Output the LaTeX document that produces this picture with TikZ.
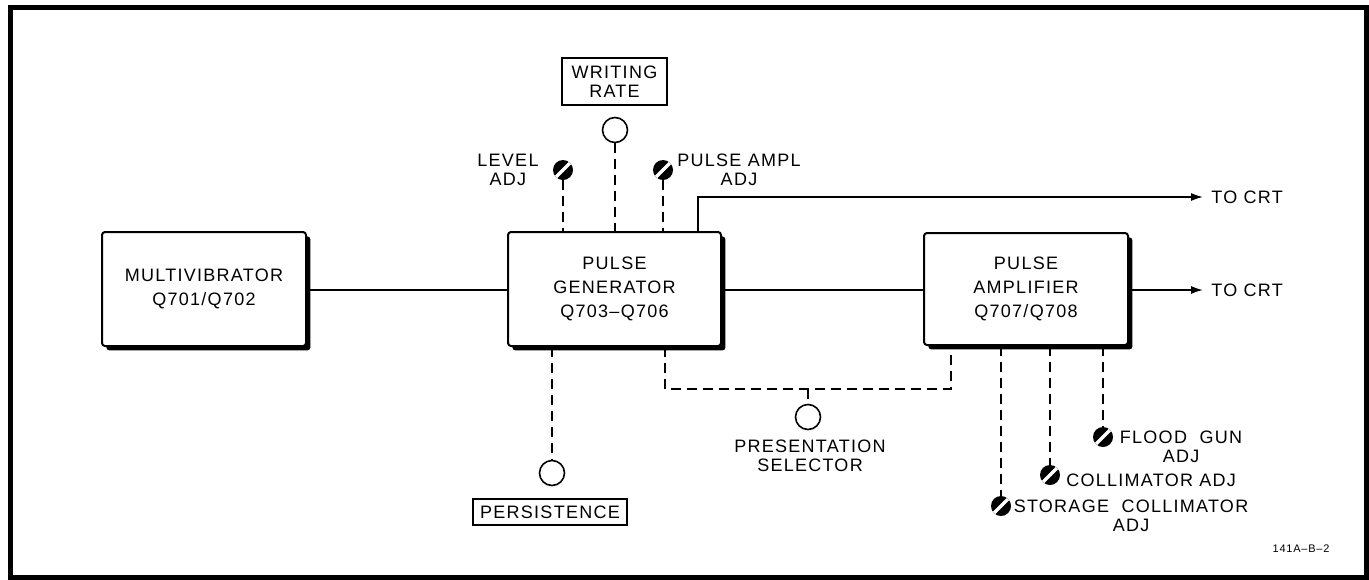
\documentclass[tikz,border=0pt]{standalone}
\usepackage{fontspec}
\setmainfont{Liberation Sans}[LetterSpace=7]
\usetikzlibrary{shadows,arrows.meta}
\tikzset{
  blk/.style={draw, line width=1pt, fill=white, rounded corners=1.5pt, align=center, inner sep=0pt,
    font=\fontsize{9}{12.2}\selectfont,
    drop shadow={shadow xshift=2.2pt, shadow yshift=-2.2pt, opacity=1, fill=black}},
  tagbox/.style={draw, line width=0.8pt, align=center, inner sep=0pt, font=\fontsize{9}{9.5}\selectfont},
  knob/.style={circle, draw, line width=0.8pt, minimum size=12.5pt, inner sep=0pt},
  screw/.style={circle, fill=black, minimum size=10pt, inner sep=0pt,
    path picture={\draw[white, line width=1.7pt] (path picture bounding box.south west) -- (path picture bounding box.north east);}},
  lbl/.style={align=center, inner sep=0pt, font=\fontsize{9}{9.5}\selectfont},
  wire/.style={line width=0.8pt},
  ctl/.style={line width=0.6pt, dash pattern=on 5pt off 3pt},
  arr/.style={wire, -{Latex[length=6pt,width=4pt]}}
}
\begin{document}
\begin{tikzpicture}[x=0.5pt,y=-0.5pt]
\useasboundingbox (0,0) rectangle (1369,579);
\draw[line width=2.5pt] (10,7) rectangle (1366,577);

% main blocks
\node[blk, minimum width=102pt, minimum height=57pt] (mv) at (204,289) {MULTIVIBRATOR\\Q701/Q702};
\node[blk, minimum width=106.5pt, minimum height=57pt] (pg) at (614.5,289) {PULSE\\GENERATOR\\Q703--Q706};
\node[blk, minimum width=102pt, minimum height=56pt] (pa) at (1026,289) {PULSE\\AMPLIFIER\\Q707/Q708};

% outputs
\coordinate (crt1) at (1203,197);
\coordinate (crt2) at (1203,290);
\coordinate (t1) at (698,197);
\node[lbl, anchor=west] (lcrt1) at (1211,197) {TO CRT};
\node[lbl, anchor=west] (lcrt2) at (1211,290) {TO CRT};

\draw[wire] (mv.east |- 0,290) -- (pg.west |- 0,290);
\draw[wire] (pg.east |- 0,290) -- (pa.west |- 0,290);
\draw[arr] (pa.east |- crt2) -- (crt2);
\draw[arr] (t1 |- pg.north) -- (t1) -- (crt1);

% controls above pulse generator
\node[tagbox, minimum width=52.5pt, minimum height=23.5pt] (wrb) at (614.5,81.5) {WRITING\\RATE};
\node[knob] (wr) at (615,130) {};
\draw[ctl] (wr.south) -- (wr.south |- pg.north);

\node[screw] (la) at (563,170) {};
\node[lbl] (lal) at (508,170) {LEVEL\\ADJ};
\draw[ctl] (la.south) -- (la.south |- pg.north);

\node[screw] (pad) at (663,170) {};
\node[lbl] (padl) at (739,170) {PULSE AMPL\\ADJ};
\draw[ctl] (pad.south) -- (pad.south |- pg.north);

% persistence
\node[knob] (pe) at (552,473) {};
\node[tagbox, minimum width=77pt, minimum height=13pt] (peb) at (550,512) {PERSISTENCE};
\draw[ctl] (pe.north |- pg.south) -- (pe.north);

% presentation selector
\coordinate (p1) at (665,389);
\coordinate (p2) at (951,389);
\coordinate (p3) at (808,389);
\node[knob] (ps) at (808,417) {};
\node[lbl] (psl) at (810,456) {PRESENTATION\\SELECTOR};
\draw[ctl] (p1 |- pg.south) -- (p1) -- (p2) -- (p2 |- pa.south);
\draw[ctl] (p3) -- (ps.north);

% controls below pulse amplifier
\node[screw] (fg) at (1103,437) {};
\node[screw] (co) at (1050,475) {};
\node[screw] (sc) at (1001,506) {};
\draw[ctl] (fg.north |- pa.south) -- (fg.north);
\draw[ctl] (co.north |- pa.south) -- (co.north);
\draw[ctl] (sc.north |- pa.south) -- (sc.north);
\node[lbl] (fgl) at (1181,447) {FLOOD\ \ GUN\\ADJ};
\node[lbl, anchor=west] (col) at (1066,480) {COLLIMATOR ADJ};
\node[lbl] (scl) at (1131,516) {STORAGE\ \ COLLIMATOR\\ADJ};

\node[inner sep=0pt, font=\fontsize{5.5}{6}\selectfont] (id) at (1301,549) {141A--B--2};
\end{tikzpicture}
\end{document}
